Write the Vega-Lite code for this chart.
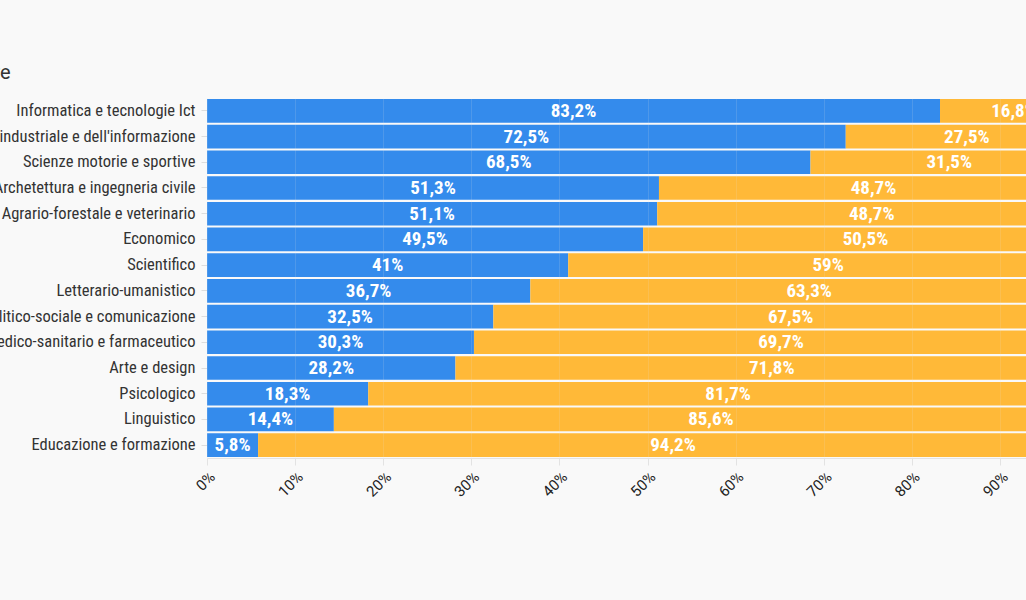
{
  "$schema": "https://vega.github.io/schema/vega-lite/v6.json",
  "autosize": {"type": "none"},
  "padding": {"left": 207, "top": 98, "right": 0, "bottom": 142},
  "width": 819,
  "height": 360,
  "background": "#f9f9f9",
  "config": {
    "locale": {"number": {"decimal": ",", "thousands": ".", "grouping": [3], "currency": ["", " €"]}},
    "view": {"stroke": null},
    "font": "Roboto Condensed, Liberation Sans Narrow, Roboto"
  },
  "data": {
    "values": [
      {"gruppo": "Informatica e tecnologie Ict", "sesso": "Uomini", "quota": 0.832},
      {"gruppo": "Informatica e tecnologie Ict", "sesso": "Donne", "quota": 0.168},
      {"gruppo": "Ingegneria industriale e dell'informazione", "sesso": "Uomini", "quota": 0.725},
      {"gruppo": "Ingegneria industriale e dell'informazione", "sesso": "Donne", "quota": 0.275},
      {"gruppo": "Scienze motorie e sportive", "sesso": "Uomini", "quota": 0.685},
      {"gruppo": "Scienze motorie e sportive", "sesso": "Donne", "quota": 0.315},
      {"gruppo": "Archetettura e ingegneria civile", "sesso": "Uomini", "quota": 0.513},
      {"gruppo": "Archetettura e ingegneria civile", "sesso": "Donne", "quota": 0.487},
      {"gruppo": "Agrario-forestale e veterinario", "sesso": "Uomini", "quota": 0.511},
      {"gruppo": "Agrario-forestale e veterinario", "sesso": "Donne", "quota": 0.487},
      {"gruppo": "Economico", "sesso": "Uomini", "quota": 0.495},
      {"gruppo": "Economico", "sesso": "Donne", "quota": 0.505},
      {"gruppo": "Scientifico", "sesso": "Uomini", "quota": 0.41},
      {"gruppo": "Scientifico", "sesso": "Donne", "quota": 0.59},
      {"gruppo": "Letterario-umanistico", "sesso": "Uomini", "quota": 0.367},
      {"gruppo": "Letterario-umanistico", "sesso": "Donne", "quota": 0.633},
      {"gruppo": "Politico-sociale e comunicazione", "sesso": "Uomini", "quota": 0.325},
      {"gruppo": "Politico-sociale e comunicazione", "sesso": "Donne", "quota": 0.675},
      {"gruppo": "Medico-sanitario e farmaceutico", "sesso": "Uomini", "quota": 0.303},
      {"gruppo": "Medico-sanitario e farmaceutico", "sesso": "Donne", "quota": 0.697},
      {"gruppo": "Arte e design", "sesso": "Uomini", "quota": 0.282},
      {"gruppo": "Arte e design", "sesso": "Donne", "quota": 0.718},
      {"gruppo": "Psicologico", "sesso": "Uomini", "quota": 0.183},
      {"gruppo": "Psicologico", "sesso": "Donne", "quota": 0.817},
      {"gruppo": "Linguistico", "sesso": "Uomini", "quota": 0.144},
      {"gruppo": "Linguistico", "sesso": "Donne", "quota": 0.856},
      {"gruppo": "Educazione e formazione", "sesso": "Uomini", "quota": 0.058},
      {"gruppo": "Educazione e formazione", "sesso": "Donne", "quota": 0.942}
    ]
  },
  "transform": [
    {"stack": "quota", "groupby": ["gruppo"], "sort": [{"field": "sesso", "order": "descending"}], "as": ["x0", "x1"]},
    {"calculate": "(datum.x0 + datum.x1) / 2", "as": "xm"}
  ],
  "encoding": {
    "y": {
      "field": "gruppo",
      "type": "nominal",
      "sort": null,
      "scale": {"paddingInner": 0.08, "paddingOuter": 0.04},
      "axis": {
        "title": "Gruppo disciplinare",
        "titleFont": "Roboto",
        "titleAngle": 0,
        "titleAlign": "right",
        "titleBaseline": "alphabetic",
        "titleX": -197,
        "titleY": -20,
        "titleFontSize": 20,
        "titleFontWeight": "normal",
        "titleColor": "#333333",
        "labelFontSize": 16.5,
        "labelLimit": 0,
        "labelColor": "#333333",
        "labelPadding": 6,
        "tickColor": "#dddddd",
        "tickSize": 6,
        "domain": false,
        "grid": false
      }
    }
  },
  "layer": [
    {
      "mark": {"type": "bar", "clip": true},
      "encoding": {
        "x": {
          "field": "x0",
          "type": "quantitative",
          "scale": {"domain": [0, 0.9296], "nice": false, "zero": true},
          "axis": {
            "title": null,
            "format": ".0%",
            "values": [0, 0.1, 0.2, 0.3, 0.4, 0.5, 0.6, 0.7, 0.8, 0.9],
            "labelAngle": -45,
            "labelFont": "Roboto",
            "labelFontSize": 15,
            "labelColor": "#222222",
            "labelPadding": 4,
            "domainColor": "#e3e3e3",
            "tickColor": "#e3e3e3",
            "tickSize": 7,
            "grid": true,
            "gridColor": "#e6e6e6",
            "gridOpacity": 0.15,
            "zindex": 1
          }
        },
        "x2": {"field": "x1"},
        "color": {
          "field": "sesso",
          "type": "nominal",
          "scale": {"domain": ["Uomini", "Donne"], "range": ["#348bec", "#ffb938"]},
          "legend": null
        }
      }
    },
    {
      "mark": {"type": "text", "clip": true, "color": "#ffffff", "fontWeight": "bold", "fontSize": 19, "baseline": "middle", "align": "center"},
      "encoding": {
        "x": {"field": "xm", "type": "quantitative"},
        "text": {"field": "quota", "type": "quantitative", "format": ".1~%"}
      }
    }
  ]
}
